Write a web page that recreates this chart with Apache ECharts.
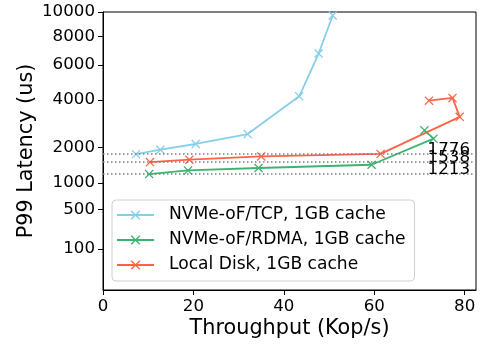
<!DOCTYPE html>
<html><head><meta charset="utf-8">
<script src="https://cdn.jsdelivr.net/npm/echarts@6/dist/echarts.min.js"></script>
<style>html,body{margin:0;padding:0;background:#fff}#c{width:484px;height:344px}</style>
</head><body><div id="c"></div>
<script>
// ---- data ----
const seriesNames = ['NVMe-oF/TCP, 1GB cache', 'NVMe-oF/RDMA, 1GB cache', 'Local Disk, 1GB cache'];
const tcpX = [7.3, 12.7, 20.5, 32.0, 43.4, 47.7, 50.8];
const tcpY = [1776, 1920, 2115, 2480, 4180, 6770, 9700];
const rdmaX = [10.2, 18.8, 34.4, 59.4, 73.1, 71.1];
const rdmaY = [1213, 1306, 1371, 1461, 2305, 2623];
const diskX = [10.4, 19.1, 35.0, 61.4, 78.9, 77.3, 72.1];
const diskY = [1538, 1607, 1706, 1785, 3190, 4100, 3960];
const annotValues = [1776, 1538, 1213];
const yTicks = [100, 500, 1000, 2000, 4000, 6000, 8000, 10000];
const xTicks = [0, 20, 40, 60, 80];

// ---- power scale for y axis ----
const P = 0.4145;
const pw = v => Math.pow(v, P);
const ypw = yTicks.map(pw);
const colors = ['#87CEEB', '#3CB371', '#FF6347'];
const FONT = 'DejaVu Sans';
const XSYM = 'path://M0,1 L1,0 L5,4 L9,0 L10,1 L6,5 L10,9 L9,10 L5,6 L1,10 L0,9 L4,5 Z';

function mk(name, xs, ys, color, annot) {
  return {
    name, type: 'line', data: xs.map((x, i) => [x, pw(ys[i])]),
    symbol: XSYM, symbolSize: 9, color,
    lineStyle: {width: 1.8, color}, itemStyle: {color},
    z: 3,
    markLine: {
      silent: true, symbol: ['none', 'none'], animation: false,
      lineStyle: {color: '#808080', type: [1.5, 2.5], width: 1.5},
      label: {show: true, position: 'insideEndTop', formatter: String(annot),
        color: '#000', fontSize: 16.67, fontFamily: FONT, distance: [6, -4]},
      data: [{yAxis: pw(annot)}]
    }
  };
}

const chart = echarts.init(document.getElementById('c'), null, {renderer: 'canvas'});
chart.setOption({
  animation: false,
  textStyle: {fontFamily: FONT},
  grid: {left: 103, top: 12, width: 373, height: 278, show: true, borderColor: '#000', borderWidth: 1},
  xAxis: {
    type: 'value', min: 0, max: 82.5, interval: 20,
    name: 'Throughput (Kop/s)', nameLocation: 'middle', nameGap: 28, nameMoveOverlap: false,
    nameTextStyle: {fontSize: 20.8, color: '#000', fontFamily: FONT},
    axisLine: {show: true, lineStyle: {color: '#000', width: 1}},
    axisTick: {show: true, length: 5, lineStyle: {color: '#000'}, customValues: xTicks},
    axisLabel: {fontSize: 16.67, color: '#000', margin: 8, fontFamily: FONT, customValues: xTicks},
    splitLine: {show: false}
  },
  yAxis: {
    type: 'value', min: 0, max: pw(10000),
    name: 'P99 Latency (us)', nameLocation: 'middle', nameGap: 66, nameMoveOverlap: false,
    nameTextStyle: {fontSize: 20.8, color: '#000', fontFamily: FONT},
    axisLine: {show: true, lineStyle: {color: '#000', width: 1}},
    axisTick: {show: true, length: 5, lineStyle: {color: '#000'}, customValues: ypw},
    axisLabel: {fontSize: 16.67, color: '#000', margin: 8, fontFamily: FONT, customValues: ypw,
      formatter: v => {
        let best = yTicks[0];
        yTicks.forEach(t => { if (Math.abs(pw(t) - v) < Math.abs(pw(best) - v)) best = t; });
        return String(best);
      }},
    splitLine: {show: false}
  },
  legend: {
    data: seriesNames, orient: 'vertical', left: 112, top: 200,
    padding: [5, 9, 6, 4], itemGap: 5, itemWidth: 37, itemHeight: 12,
    borderColor: '#d0d0d0', borderWidth: 1, borderRadius: 4,
    backgroundColor: 'rgba(255,255,255,0.85)',
    textStyle: {fontSize: 17.1, color: '#000', fontFamily: FONT, lineHeight: 20, padding: [0, 0, 0, 10]}
  },
  series: [
    mk(seriesNames[0], tcpX, tcpY, colors[0], annotValues[0]),
    mk(seriesNames[1], rdmaX, rdmaY, colors[1], annotValues[2]),
    mk(seriesNames[2], diskX, diskY, colors[2], annotValues[1])
  ]
});
</script></body></html>
